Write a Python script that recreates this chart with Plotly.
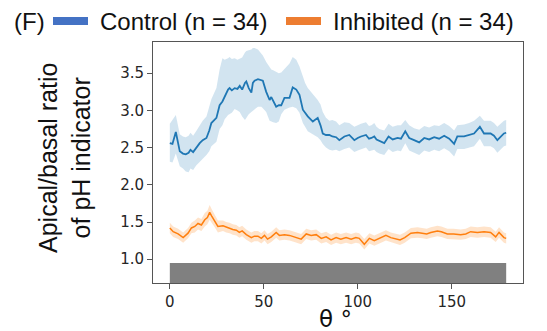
import plotly.graph_objects as go

# ---------------- data ----------------
ctrl_theta = [0, 1.4, 3.2, 5.3, 7, 8.5, 10, 11, 12.4, 14, 15.9, 17.5, 19.5, 21, 22.1, 24.8,
              26.5, 28, 29.2, 31, 31.8, 33, 34.5, 36, 37.2, 38.5, 40, 40.7, 42, 43.4, 44.2,
              45.1, 46.9, 48.7, 49.5, 51.3, 52.2, 53.1, 54, 55, 56.6, 58, 59.3, 61, 63.7,
              65.4, 67.3, 69, 70.8, 72, 73.4, 76.1, 78.7, 80.2, 81.4, 83.1, 84.9, 86.5,
              88.5, 90.2, 92.9, 95.5, 98.2, 100, 101.7, 104.4, 106, 107.3, 108.8, 110,
              111.5, 114.1, 116.4, 118.6, 121.2, 123, 125.3, 127.4, 130, 132.7, 135.4,
              138, 140.7, 143.3, 146, 148.7, 151.3, 153, 156.6, 159.3, 161.9, 165, 167.2,
              170.7, 172.5, 174.3, 176, 177.8, 179]
ctrl_mean = [2.56, 2.55, 2.71, 2.45, 2.42, 2.41, 2.43, 2.47, 2.44, 2.50, 2.56, 2.60, 2.63,
             2.73, 2.83, 2.90, 3.07, 3.12, 3.19, 3.28, 3.30, 3.27, 3.30, 3.29, 3.33, 3.28,
             3.37, 3.39, 3.30, 3.24, 3.37, 3.40, 3.42, 3.41, 3.40, 3.25, 3.19, 3.14, 3.18,
             3.13, 3.05, 3.07, 3.07, 3.17, 3.17, 3.31, 3.28, 3.21, 3.01, 2.97, 2.92, 2.85,
             2.90, 2.80, 2.69, 2.67, 2.67, 2.65, 2.64, 2.60, 2.65, 2.67, 2.60, 2.63, 2.65,
             2.67, 2.62, 2.63, 2.65, 2.61, 2.59, 2.56, 2.65, 2.61, 2.63, 2.62, 2.72, 2.63,
             2.60, 2.57, 2.63, 2.61, 2.64, 2.62, 2.66, 2.62, 2.55, 2.65, 2.65, 2.67, 2.69,
             2.78, 2.69, 2.69, 2.66, 2.60, 2.65, 2.69, 2.70]
ctrl_upper = [2.82, 2.88, 2.94, 2.68, 2.65, 2.64, 2.66, 2.70, 2.66, 2.72, 2.80, 2.86, 2.92,
              3.05, 3.15, 3.30, 3.55, 3.70, 3.68, 3.70, 3.72, 3.69, 3.70, 3.68, 3.70, 3.71,
              3.78, 3.80, 3.81, 3.82, 3.84, 3.84, 3.82, 3.77, 3.74, 3.65, 3.62, 3.58, 3.55,
              3.54, 3.52, 3.50, 3.51, 3.56, 3.63, 3.72, 3.68, 3.59, 3.45, 3.37, 3.30, 3.22,
              3.14, 3.08, 2.98, 2.90, 2.86, 2.87, 2.85, 2.80, 2.84, 2.83, 2.78, 2.80, 2.82,
              2.84, 2.79, 2.80, 2.83, 2.78, 2.75, 2.73, 2.82, 2.78, 2.80, 2.80, 2.87, 2.80,
              2.76, 2.74, 2.79, 2.77, 2.80, 2.79, 2.83, 2.79, 2.73, 2.80, 2.81, 2.83, 2.86,
              2.93, 2.86, 2.86, 2.83, 2.78, 2.82, 2.86, 2.87]
ctrl_lower = [2.31, 2.30, 2.42, 2.25, 2.22, 2.18, 2.17, 2.22, 2.20, 2.26, 2.31, 2.35, 2.40,
              2.45, 2.52, 2.58, 2.75, 2.80, 2.88, 2.94, 2.95, 2.97, 3.02, 3.00, 2.98, 2.92,
              2.87, 2.90, 2.95, 2.98, 3.00, 3.02, 3.05, 3.05, 3.03, 2.98, 2.92, 2.86, 2.85,
              2.84, 2.83, 2.85, 2.95, 3.01, 3.04, 3.05, 3.03, 2.97, 2.83, 2.78, 2.72, 2.68,
              2.64, 2.60, 2.55, 2.50, 2.47, 2.46, 2.47, 2.45, 2.48, 2.50, 2.44, 2.46, 2.48,
              2.50, 2.45, 2.46, 2.47, 2.44, 2.42, 2.40, 2.48, 2.44, 2.46, 2.45, 2.56, 2.46,
              2.43, 2.40, 2.46, 2.44, 2.47, 2.45, 2.49, 2.45, 2.38, 2.48, 2.48, 2.50, 2.52,
              2.62, 2.52, 2.52, 2.49, 2.43, 2.48, 2.52, 2.53]

inh_theta = [0, 1.8, 4.4, 7.1, 9.7, 11.5, 13.3, 15, 16.8, 18.6, 20, 21.2, 22.3, 23.9, 25.6,
             28.3, 30, 31.8, 33.5, 35.4, 37, 38.5, 40.7, 43.4, 45, 46.9, 48.7, 50.4, 52, 54,
             56.6, 58.3, 61, 63.7, 66.3, 68, 69.9, 72.6, 75.2, 77.9, 80.6, 83.2, 85.8, 88.5,
             91, 93.8, 96.5, 99, 100.8, 103.5, 106.2, 108.8, 111.5, 115, 117.6, 120, 122.5,
             125, 128.3, 131.8, 134.5, 136.7, 138.9, 142.4, 144.5, 147.7, 151, 154.8, 157.5,
             160.1, 163.7, 167.2, 170.7, 173.4, 175.2, 177.8, 179]
inh_mean = [1.42, 1.37, 1.34, 1.29, 1.35, 1.42, 1.44, 1.48, 1.46, 1.53, 1.56, 1.63, 1.58,
            1.51, 1.44, 1.45, 1.43, 1.42, 1.40, 1.39, 1.36, 1.38, 1.33, 1.29, 1.31, 1.31,
            1.28, 1.32, 1.27, 1.30, 1.36, 1.32, 1.33, 1.32, 1.30, 1.29, 1.27, 1.34, 1.32,
            1.33, 1.28, 1.30, 1.26, 1.29, 1.27, 1.29, 1.27, 1.29, 1.28, 1.20, 1.28, 1.25,
            1.28, 1.32, 1.29, 1.28, 1.26, 1.29, 1.35, 1.36, 1.35, 1.34, 1.36, 1.38, 1.37,
            1.34, 1.34, 1.33, 1.34, 1.37, 1.36, 1.37, 1.36, 1.30, 1.36, 1.29, 1.28]
inh_err = [0.07, 0.07, 0.07, 0.07, 0.07, 0.07, 0.08, 0.08, 0.08, 0.09, 0.09, 0.10, 0.09,
           0.08, 0.08, 0.07, 0.07, 0.07, 0.07, 0.07, 0.07, 0.07, 0.07, 0.07, 0.07, 0.07,
           0.07, 0.07, 0.07, 0.07, 0.07, 0.07, 0.07, 0.07, 0.07, 0.07, 0.07, 0.07, 0.07,
           0.07, 0.07, 0.07, 0.07, 0.07, 0.07, 0.07, 0.07, 0.07, 0.07, 0.07, 0.07, 0.07,
           0.07, 0.07, 0.07, 0.07, 0.07, 0.07, 0.07, 0.07, 0.07, 0.07, 0.07, 0.07, 0.07,
           0.07, 0.07, 0.07, 0.07, 0.07, 0.07, 0.07, 0.07, 0.07, 0.07, 0.07, 0.07]

bar_start, bar_end, bar_top = 0, 179, 0.95

x_ticks = [0, 50, 100, 150]
y_ticks = [1.0, 1.5, 2.0, 2.5, 3.0, 3.5]

legend_labels = ["Control (n = 34)", "Inhibited (n = 34)"]
panel_label = "(F)"

# ---------------- figure ----------------
BLUE = "#1f77b4"
ORANGE = "#ff7f0e"

fig = go.Figure()

fig.add_trace(go.Bar(x=[(bar_start + bar_end) / 2], y=[bar_top], width=[bar_end - bar_start],
                     marker=dict(color="#808080", line=dict(width=0)), showlegend=False,
                     hoverinfo="skip"))

inh_upper = [m + e for m, e in zip(inh_mean, inh_err)]
inh_lower = [m - e for m, e in zip(inh_mean, inh_err)]

fig.add_trace(go.Scatter(x=ctrl_theta + ctrl_theta[::-1], y=ctrl_upper + ctrl_lower[::-1],
                         fill="toself", fillcolor="rgba(31,119,180,0.2)",
                         line=dict(width=0), mode="lines", showlegend=False, hoverinfo="skip"))
fig.add_trace(go.Scatter(x=inh_theta + inh_theta[::-1], y=inh_upper + inh_lower[::-1],
                         fill="toself", fillcolor="rgba(255,127,14,0.22)",
                         line=dict(width=0), mode="lines", showlegend=False, hoverinfo="skip"))
fig.add_trace(go.Scatter(x=ctrl_theta, y=ctrl_mean, mode="lines",
                         line=dict(color=BLUE, width=1.8), showlegend=False))
fig.add_trace(go.Scatter(x=inh_theta, y=inh_mean, mode="lines",
                         line=dict(color=ORANGE, width=1.5), showlegend=False))

L, R, T, B = 153, 24, 42, 48
W, H = 547, 331
pw, ph = W - L - R, H - T - B


def px(x):
    return (x - L) / pw


def py(y):
    return (H - B - y) / ph


axis_common = dict(showgrid=False, zeroline=False, showline=True, linecolor="#555555",
                   linewidth=1, mirror=True, ticks="outside", ticklen=5, tickwidth=1,
                   tickcolor="#555555",
                   tickfont=dict(family="DejaVu Sans", size=15, color="#262626"))

LEG_FONT = dict(family="Liberation Sans", size=24, color="#111111")

fig.update_layout(
    width=W, height=H,
    margin=dict(l=L, r=R, t=T, b=B),
    paper_bgcolor="white", plot_bgcolor="white",
    showlegend=False,
    xaxis=dict(range=[-8.95, 187.95], tickvals=x_ticks, ticktext=[str(v) for v in x_ticks],
               **axis_common),
    yaxis=dict(range=[0.68, 3.92], tickvals=y_ticks, ticktext=[f"{v:.1f}" for v in y_ticks],
               **axis_common),
    annotations=[
        dict(text=panel_label, x=px(12), y=py(21.5), xref="paper", yref="paper",
             xanchor="left", yanchor="middle", showarrow=False, font=LEG_FONT),
        dict(text=legend_labels[0], x=px(98), y=py(21.5), xref="paper", yref="paper",
             xanchor="left", yanchor="middle", showarrow=False, font=LEG_FONT),
        dict(text=legend_labels[1], x=px(331), y=py(21.5), xref="paper", yref="paper",
             xanchor="left", yanchor="middle", showarrow=False, font=LEG_FONT),
        dict(text="Apical/basal ratio<br>of pH indicator", x=px(64), y=py(158),
             xref="paper", yref="paper", xanchor="center", yanchor="middle",
             textangle=-90, showarrow=False,
             font=dict(family="Liberation Sans", size=25, color="#111111")),
        dict(text="θ °", x=px(335), y=py(319), xref="paper", yref="paper",
             xanchor="center", yanchor="middle", showarrow=False, height=24,
             font=dict(family="DejaVu Sans", size=23, color="#111111")),
    ],
    shapes=[
        dict(type="rect", xref="paper", yref="paper", x0=px(53), x1=px(88),
             y0=py(25), y1=py(17), fillcolor="#4472c4", line=dict(width=0)),
        dict(type="rect", xref="paper", yref="paper", x0=px(286), x1=px(321),
             y0=py(25), y1=py(17), fillcolor="#ed7d31", line=dict(width=0)),
    ],
)

fig.write_html("out.html")
